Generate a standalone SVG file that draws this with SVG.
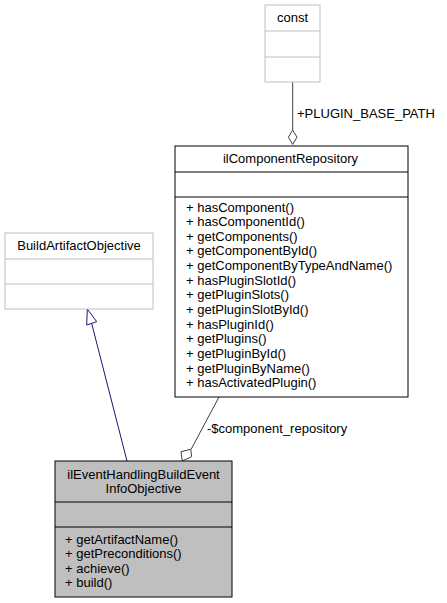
<svg xmlns="http://www.w3.org/2000/svg" width="447" height="603" viewBox="0 0 447 603">
<style>
text{font-family:"Liberation Sans",Arial,sans-serif;font-size:13px;fill:#000}
.c{text-anchor:middle}
.gb{fill:#fff;stroke:#bfbfbf;stroke-width:1}
.nb{fill:#fff;stroke:#000;stroke-width:1}
.hb{fill:#bfbfbf;stroke:#000;stroke-width:1}
.agg{fill:none;stroke:#404040;stroke-width:1}
.inh{fill:none;stroke:#191970;stroke-width:1}
</style>
<rect width="447" height="603" fill="#fff"/>
<g id="connectors">
<path class="inh" d="M127,461 L91.7,323.5"/>
<polygon points="87.3,309 86.7,325 96.7,321.7" fill="#fff" stroke="#191970"/>
<path class="agg" d="M219,397 L191,449.5"/>
<polygon points="182.3,461 181,451.7 190.7,449.3 191.7,456.7" fill="#fff" stroke="#404040"/>
<text x="207" y="433">-$component_repository</text>
<path class="agg" d="M292.7,82 L292.7,130"/>
<polygon points="292.7,130 297,137.2 292.7,144.4 288.4,137.2" fill="#fff" stroke="#404040"/>
<text x="297" y="118">+PLUGIN_BASE_PATH</text>
</g>
<g id="const">
<rect class="gb" x="265" y="5" width="55" height="77"/>
<line class="gb" x1="265" y1="31" x2="320" y2="31"/>
<line class="gb" x1="265" y1="57" x2="320" y2="57"/>
<text class="c" x="292.5" y="22">const</text>
</g>
<g id="BuildArtifactObjective">
<rect class="gb" x="5" y="233" width="148" height="76"/>
<line class="gb" x1="5" y1="259" x2="153" y2="259"/>
<line class="gb" x1="5" y1="284" x2="153" y2="284"/>
<text class="c" x="79" y="250">BuildArtifactObjective</text>
</g>
<g id="ilComponentRepository">
<rect class="nb" x="175" y="146" width="233" height="251"/>
<line class="nb" x1="175" y1="172" x2="408" y2="172"/>
<line class="nb" x1="175" y1="197" x2="408" y2="197"/>
<text class="c" x="290.5" y="163">ilComponentRepository</text>
<text x="186" y="211.5">+ hasComponent()</text>
<text x="186" y="226">+ hasComponentId()</text>
<text x="186" y="240.7">+ getComponents()</text>
<text x="186" y="255.4">+ getComponentById()</text>
<text x="186" y="270">+ getComponentByTypeAndName()</text>
<text x="186" y="284.7">+ hasPluginSlotId()</text>
<text x="186" y="299.4">+ getPluginSlots()</text>
<text x="186" y="314">+ getPluginSlotById()</text>
<text x="186" y="328.7">+ hasPluginId()</text>
<text x="186" y="343.4">+ getPlugins()</text>
<text x="186" y="358">+ getPluginById()</text>
<text x="186" y="372.7">+ getPluginByName()</text>
<text x="186" y="387.4">+ hasActivatedPlugin()</text>
</g>
<g id="ilEventHandlingBuildEventInfoObjective">
<rect class="hb" x="55" y="461" width="177" height="136"/>
<line class="nb" x1="55" y1="502" x2="232" y2="502"/>
<line class="nb" x1="55" y1="527" x2="232" y2="527"/>
<text class="c" x="143.5" y="479">ilEventHandlingBuildEvent</text>
<text class="c" x="143.5" y="493">InfoObjective</text>
<text x="65" y="543.5">+ getArtifactName()</text>
<text x="65" y="558">+ getPreconditions()</text>
<text x="65" y="572.5">+ achieve()</text>
<text x="65" y="587">+ build()</text>
</g>
</svg>
